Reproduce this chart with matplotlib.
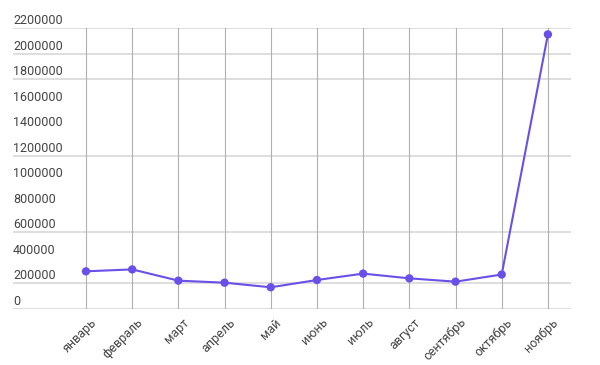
import matplotlib
matplotlib.use("Agg")
import matplotlib.pyplot as plt
from matplotlib import transforms

months = ["январь", "февраль", "март", "апрель", "май", "июнь", "июль",
          "август", "сентябрь", "октябрь", "ноябрь"]
values = [295000, 310000, 222000, 206000, 170000, 227000, 277000,
          240000, 214000, 270000, 2150000]
ytick_values = [0, 200000, 400000, 600000, 800000, 1000000, 1200000,
                1400000, 1600000, 1800000, 2000000, 2200000]
grid_values = [0, 200000, 600000, 1200000, 1800000, 2000000, 2200000]

plt.rcParams['font.family'] = ['Roboto', 'DejaVu Sans']

W, H = 600, 365
fig = plt.figure(figsize=(6, 3.65), dpi=100)
left, right, top, bottom = 13, 571, 28, 309
ax = fig.add_axes([left / W, (H - bottom) / H, (right - left) / W, (bottom - top) / H])

x = list(range(len(months)))
ax.set_xlim(-1.58, 10.5)
ax.set_ylim(0, 2200000)

for s in ax.spines.values():
    s.set_visible(False)

for g in grid_values:
    ax.axhline(g, color='#d4d4d4', lw=1.1, zorder=0)
for xi in x:
    ax.axvline(xi, color='#b0b0b0', lw=0.8, zorder=0)

ax.plot(x, values, color='#6a50e6', lw=1.5, zorder=3)
ax.scatter(x, values, s=36, color='#6a50e6', zorder=4, edgecolors='none')

ax.set_yticks([])
ax.set_xticks(x)
ax.set_xticklabels(months, rotation=45, ha='right', rotation_mode='anchor',
                   fontsize=9, color='#444444')
ax.tick_params(axis='x', length=0, pad=5)
off = transforms.ScaledTranslation(4 / 100, 0, fig.dpi_scale_trans)
for lbl in ax.get_xticklabels():
    lbl.set_transform(lbl.get_transform() + off)

trans = transforms.blended_transform_factory(ax.transAxes, ax.transData)
for v in ytick_values:
    ax.text(0, v, str(v), transform=trans + transforms.ScaledTranslation(0, 1 / 100, fig.dpi_scale_trans),
            ha='left', va='bottom', fontsize=9, color='#444444')

fig.savefig("out.png", dpi=100, facecolor='white')
